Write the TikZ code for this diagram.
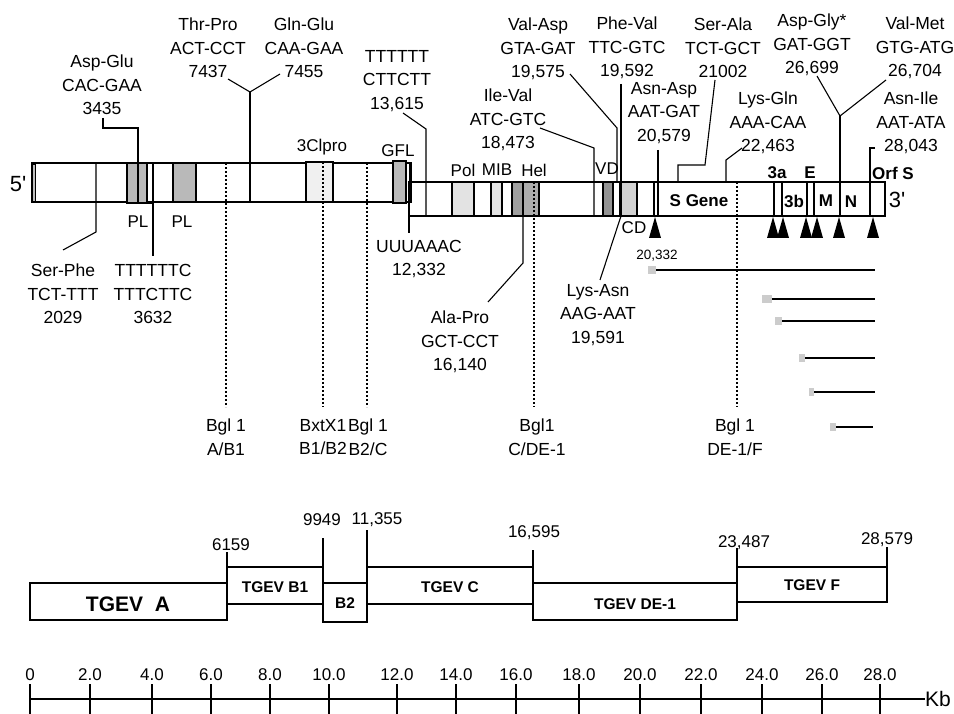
\documentclass[tikz,border=0pt]{standalone}
\usepackage{fontspec}
\setmainfont{Liberation Sans}
\begin{document}
\begin{tikzpicture}[x=1pt,y=-1pt,
  lab/.style={align=center,inner sep=0pt,font=\fontsize{17.5}{23.5}\selectfont},
  sm/.style={inner sep=0pt,font=\fontsize{17}{19}\selectfont},
  tiny/.style={inner sep=0pt,font=\fontsize{13.5}{15}\selectfont},
  bl/.style={inner sep=0pt,font=\fontsize{17}{19}\selectfont\bfseries},
  big/.style={inner sep=0pt,font=\fontsize{22}{24}\selectfont},
  fr/.style={inner sep=0pt,font=\fontsize{15.5}{18}\selectfont\bfseries},
  ln/.style={line width=1.1pt},
  dots/.style={line width=1.3pt,dash pattern=on 2pt off 2pt},
  box/.style={draw,line width=1.1pt},
  sq/.style={fill=gray!40,draw=none},
]
\useasboundingbox (0,0) rectangle (954,714);
\fill[white] (0,0) rectangle (954,714);

% ---------- genome bar ----------
\draw[box] (32,163) rectangle (410,202);
\draw[box] (409,182) rectangle (885,216);
\filldraw[fill=gray!50,line width=0.6pt] (32,164) rectangle (35,201);
\filldraw[box,fill=gray!55] (127,163) rectangle (147,203);
\draw[box] (147,163) rectangle (153,203);
\filldraw[box,fill=gray!55] (173,163) rectangle (196,202);
\filldraw[box,fill=gray!12] (306,162) rectangle (333,202);
\filldraw[box,fill=gray!55] (393,161) rectangle (406,203);
\draw[box] (406,163) rectangle (411,202);
\fill (408,183) rectangle (411,202);
\filldraw[box,fill=gray!22] (452,182) rectangle (474,216);
\filldraw[box,fill=gray!22] (491,182) rectangle (502,216);
\filldraw[box,fill=gray!75] (512,182) rectangle (523,216);
\filldraw[box,fill=gray!65] (523,182) rectangle (539,216);
\filldraw[box,fill=gray!85] (603,182) rectangle (613,216);
\filldraw[box,fill=gray!35] (620,182) rectangle (637,216);
\draw[line width=2.6pt] (654,182) -- (654,216);
\draw[ln] (658,182) -- (658,216);
\foreach \x in {774,782,807,814,870} \draw[ln] (\x,182) -- (\x,216);

% restriction-site dotted lines
\coordinate (d1) at (226,163); \coordinate (d1e) at (226,407);
\coordinate (d2) at (323,162); \coordinate (d2e) at (323,407);
\coordinate (d3) at (367,163); \coordinate (d3e) at (367,407);
\coordinate (d4) at (534,182); \coordinate (d4e) at (534,407);
\coordinate (d5) at (737,182); \coordinate (d5e) at (737,407);
\foreach \a in {d1,d2,d3,d4,d5} \draw[dots] (\a) -- (\a e);

% arrowheads (sgRNA starts)
\foreach \x in {655,773,783,806,817,839,873}
  \fill (\x-6,238) -- (\x,217) -- (\x+6,238) -- cycle;

% ---------- labels in/around bar ----------
\node[big] (five) at (18,184) {5\textquotesingle};
\node[big] (three) at (897,200) {3\textquotesingle};
\node[sm] (pl1) at (138,222) {PL};
\node[sm] (pl2) at (182,222) {PL};
\node[sm] (clpro) at (322,147) {3Clpro};
\node[sm] (gfl) at (398,151) {GFL};
\node[sm] (pol) at (463,170) {Pol};
\node[sm] (mib) at (497,170) {MIB};
\node[sm] (hel) at (534,170) {Hel};
\node[sm] (vd) at (607,169) {VD};
\node[sm] (cd) at (634,228) {CD};
\node[bl] (sg) at (699,201) {S Gene};
\node[bl] (g3a) at (777,173) {3a};
\node[bl] (ge) at (810,173) {E};
\node[bl] (g3b) at (794,201) {3b};
\node[bl] (gm) at (826,201) {M};
\node[bl] (gn) at (851,202) {N};
\node[bl] (orfs) at (893,173) {Orf S};

% ---------- mutation labels ----------
\node[lab] (m1) at (102,85) {Asp-Glu\\CAC-GAA\\3435};
\node[lab] (m2) at (208,48) {Thr-Pro\\ACT-CCT\\7437};
\node[lab] (m3) at (304,48) {Gln-Glu\\CAA-GAA\\7455};
\node[lab] (m4) at (397,81) {TTTTTT\\CTTCTT\\13,615};
\node[lab] (m5) at (538,49) {Val-Asp\\GTA-GAT\\19,575};
\node[lab] (m6) at (508,120) {Ile-Val\\ATC-GTC\\18,473};
\node[lab] (m7) at (627,48) {Phe-Val\\TTC-GTC\\19,592};
\node[lab] (m8) at (723,48) {Ser-Ala\\TCT-GCT\\21002};
\node[lab] (m9) at (664,113) {Asn-Asp\\AAT-GAT\\20,579};
\node[lab] (m10) at (768,123) {Lys-Gln\\AAA-CAA\\22,463};
\node[lab] (m11) at (812,45) {Asp-Gly*\\GAT-GGT\\26,699};
\node[lab] (m12) at (915,48) {Val-Met\\GTG-ATG\\26,704};
\node[lab] (m13) at (911,123) {Asn-Ile\\AAT-ATA\\28,043};
\node[lab] (m14) at (63,294) {Ser-Phe\\TCT-TTT\\2029};
\node[lab] (m15) at (153,294) {TTTTTTC\\TTTCTTC\\3632};
\node[lab] (m16) at (419,259) {UUUAAAC\\12,332};
\node[lab] (m17) at (460,342) {Ala-Pro\\GCT-CCT\\16,140};
\node[lab] (m18) at (598,315) {Lys-Asn\\AAG-AAT\\19,591};

% connectors
\draw[ln] (103,118) -- (103,128) -- (138,128) -- (138,203);
\draw[ln] (63,250) -- (96,232) -- (96,163);
\draw[ln] (153,256) -- (153,203);
\coordinate (y1) at (250,92);
\draw[ln] (228,79) -- (y1) -- (280,74);
\draw[ln] (y1) -- (250,202);
\draw[ln] (403,113) -- (426,129) -- (426,216);
\draw[ln] (409,216) -- (409,233);
\draw[ln] (488,302) -- (523,263) -- (523,182);
\draw[ln] (540,128) -- (594,148) -- (594,216);
\draw[ln] (570,74) -- (617,128) -- (617,182);
\draw[ln] (621,84) -- (621,216);
\draw[ln] (621,216) -- (600,280);
\draw[ln] (658,150) -- (658,182);
\draw[ln] (715,80) -- (705,165) -- (678,165) -- (678,182);
\draw[ln] (742,148) -- (726,160) -- (726,182);
\coordinate (y2) at (840,116);
\draw[ln] (817,76) -- (y2) -- (886,80);
\draw[ln] (y2) -- (840,216);
\draw[ln] (875,148) -- (870,148) -- (870,182);

% restriction labels
\node[lab] (r1) at (226,437) {Bgl 1\\A/B1};
\node[lab] (r2) at (323,437) {BxtX1\\B1/B2};
\node[lab] (r3) at (368,437) {Bgl 1\\B2/C};
\node[lab] (r4) at (537,437) {Bgl1\\C/DE-1};
\node[lab] (r5) at (735,437) {Bgl 1\\DE-1/F};

% ---------- sgRNAs ----------
\node[tiny] (s0) at (657,256) {20,332};
\fill[sq] (648,266) rectangle (656,274); \draw[ln] (656,270) -- (875,270);
\fill[sq] (762,295) rectangle (772,303); \draw[ln] (772,299) -- (875,299);
\fill[sq] (775,317) rectangle (782,325); \draw[ln] (782,321) -- (875,321);
\fill[sq] (799,354) rectangle (805,362); \draw[ln] (805,358) -- (875,358);
\fill[sq] (809,388) rectangle (814,396); \draw[ln] (814,392) -- (875,392);
\fill[sq] (830,423) rectangle (836,431); \draw[ln] (836,427) -- (873,427);

% ---------- cDNA fragments ----------
\draw[box] (30,583) rectangle (227,620);
\draw[box] (227,567) rectangle (323,604);
\draw[box] (323,583) rectangle (367,622);
\draw[box] (367,567) rectangle (533,604);
\draw[box] (533,583) rectangle (737,620);
\draw[box] (737,567) rectangle (887,602);
\node[inner sep=0pt,font=\fontsize{21}{22}\selectfont\bfseries] (fa) at (128,604) {TGEV\ \ A};
\node[fr] (fb1) at (275,587) {TGEV B1};
\node[fr] (fb2) at (345,603) {B2};
\node[fr] (fc) at (450,587) {TGEV C};
\node[fr] (fde) at (635,604) {TGEV DE-1};
\node[fr] (ff) at (812,585) {TGEV F};
\draw[ln] (227,552) -- (227,567);
\draw[ln] (323,538) -- (323,567);
\draw[ln] (367,530) -- (367,567);
\draw[ln] (533,550) -- (533,567);
\draw[ln] (737,548) -- (737,567);
\draw[ln] (887,547) -- (887,567);
\node[sm] (n1) at (231,545) {6159};
\node[sm] (n2) at (322,520) {9949};
\node[sm] (n3) at (377,520) {11,355};
\node[sm] (n4) at (534,533) {16,595};
\node[sm] (n5) at (744,543) {23,487};
\node[sm] (n6) at (887,540) {28,579};

% ---------- scale ----------
\draw[ln] (30,699) -- (925,699);
\foreach \x/\t in {30/0,90/2.0,152/4.0,211/6.0,270/8.0,329/10.0,397/12.0,456/14.0,516/16.0,579/18.0,640/20.0,701/22.0,762/24.0,822/26.0,880/28.0} {
  \draw[ln] (\x,684) -- (\x,714);
  \node[sm] at (\x,675) {\t};
}
\node[inner sep=0pt,font=\fontsize{21}{22}\selectfont] (kb) at (938,699) {Kb};
\end{tikzpicture}
\end{document}
